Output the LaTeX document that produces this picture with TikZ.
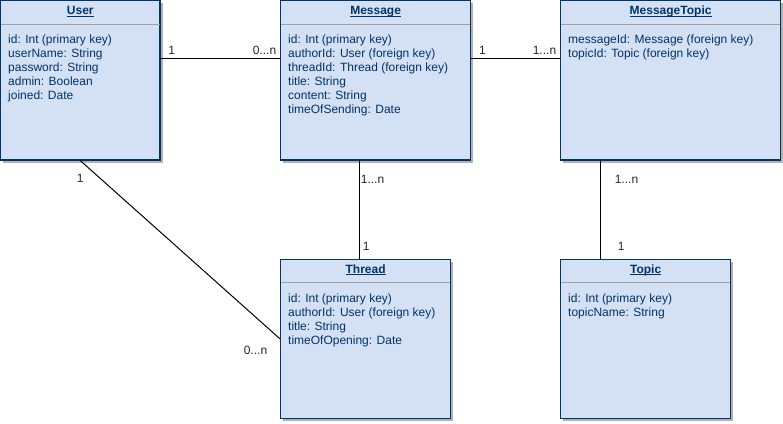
\documentclass[tikz,border=0pt]{standalone}
\usepackage{fontspec}
\setmainfont{Liberation Sans}
\usetikzlibrary{positioning,shadows}
\definecolor{classfill}{HTML}{D4E1F5}
\definecolor{classline}{HTML}{003366}
\definecolor{sepgrey}{HTML}{A0A0A0}
\tikzset{
  classbox/.style={draw=classline, fill=classfill, line width=1.2pt, anchor=north west, inner sep=0pt,
    drop shadow={shadow xshift=2.5pt, shadow yshift=-2.5pt, fill=black, opacity=0.3}},
  classtitle/.style={anchor=north, minimum height=24pt, inner sep=0pt, text height=9pt, text depth=4pt,
    text=classline, font=\fontsize{12}{14}\selectfont\bfseries},
  classsep/.style={draw=sepgrey, line width=1pt, shorten <=1pt, shorten >=1pt},
  attrs/.style={anchor=north west, align=left, inner xsep=8pt, inner ysep=10.5pt,
    text=classline, font=\fontsize{12}{14}\selectfont},
  mult/.style={font=\fontsize{12}{14}\selectfont, text=black!85},
  assoc/.style={draw=black, line width=1pt}
}
\newcommand{\classname}[1]{\underline{\smash{#1}}}
\begin{document}
\begin{tikzpicture}[x=1pt, y=-1pt]
  \useasboundingbox (0,0) rectangle (783,423);
  %\draw [help lines, step=50] (0,0) grid (783,423);
  % User
  \node[classbox, minimum width=159.4pt, minimum height=159.4pt] (user) at (0,0) {};
  \node[classtitle] (user-t) at (user.north) {\classname{User}};
  \draw[classsep] (user.west |- user-t.south) -- (user.east |- user-t.south);
  \node[attrs] (user-a) at (user-t.south -| user.west) {id: Int (primary key)\\userName: String\\password: String\\admin: Boolean\\joined: Date};
  % Message
  \node[classbox, minimum width=190pt, minimum height=159.4pt] (msg) at (280,0) {};
  \node[classtitle] (msg-t) at (msg.north) {\classname{Message}};
  \draw[classsep] (msg.west |- msg-t.south) -- (msg.east |- msg-t.south);
  \node[attrs] (msg-a) at (msg-t.south -| msg.west) {id: Int (primary key)\\authorId: User (foreign key)\\threadId: Thread (foreign key)\\title: String\\content: String\\timeOfSending: Date};
  % MessageTopic
  \node[classbox, minimum width=220pt, minimum height=159.4pt] (msgtopic) at (560,0) {};
  \node[classtitle] (msgtopic-t) at (msgtopic.north) {\classname{MessageTopic}};
  \draw[classsep] (msgtopic.west |- msgtopic-t.south) -- (msgtopic.east |- msgtopic-t.south);
  \node[attrs] (msgtopic-a) at (msgtopic-t.south -| msgtopic.west) {messageId: Message (foreign key)\\topicId: Topic (foreign key)};
  % Thread
  \node[classbox, minimum width=170pt, minimum height=159.5pt] (thread) at (280,258.5) {};
  \node[classtitle] (thread-t) at (thread.north) {\classname{Thread}};
  \draw[classsep] (thread.west |- thread-t.south) -- (thread.east |- thread-t.south);
  \node[attrs] (thread-a) at (thread-t.south -| thread.west) {id: Int (primary key)\\authorId: User (foreign key)\\title: String\\timeOfOpening: Date};
  % Topic
  \node[classbox, minimum width=170pt, minimum height=159.5pt] (topic) at (560,258.5) {};
  \node[classtitle] (topic-t) at (topic.north) {\classname{Topic}};
  \draw[classsep] (topic.west |- topic-t.south) -- (topic.east |- topic-t.south);
  \node[attrs] (topic-a) at (topic-t.south -| topic.west) {id: Int (primary key)\\topicName: String};
  %Associazioni
  \draw[assoc] (user.east |- 0,58) -- (msg.west |- 0,58) node[mult, pos=0, above right, xshift=4pt] {1} node[mult, pos=1, above left] {0...n};
  \draw[assoc] (msg.east |- 0,58) -- (msgtopic.west |- 0,58) node[mult, pos=0, above right, xshift=4pt] {1} node[mult, pos=1, above left] {1...n};
  \draw[assoc] (msg.south -| 359,0) -- (thread.north -| 359,0) node[mult, pos=0.19, right, xshift=-2pt] {1...n} node[mult, pos=0.88, right] {1};
  \draw[assoc] (msgtopic.south -| 600,0) -- (topic.north -| 600,0) node[mult, pos=0.19, right, xshift=11pt] {1...n} node[mult, pos=0.88, right, xshift=14pt] {1};
  \draw[assoc] (user.south) -- (thread.west) node[mult, pos=0, below=10pt] {1} node[mult, pos=1, below left, xshift=-9pt, yshift=-3pt] {0...n};
\end{tikzpicture}
\end{document}
